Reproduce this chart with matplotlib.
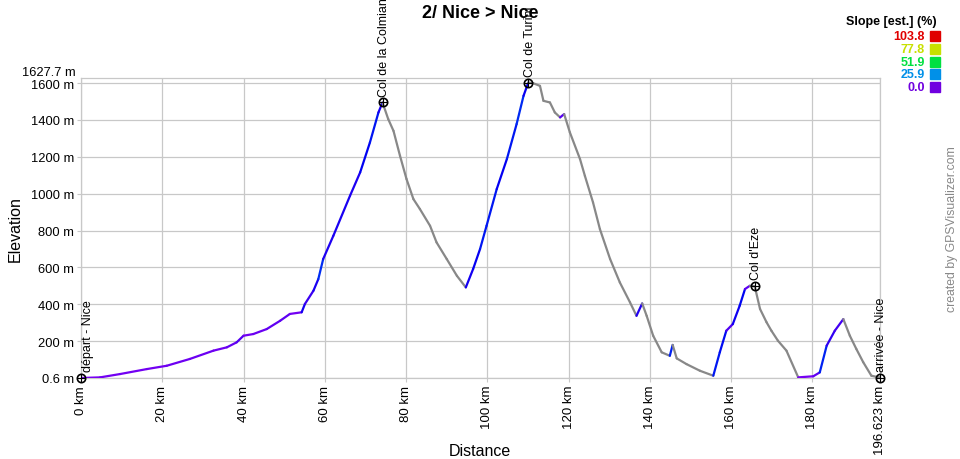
import colorsys
import numpy as np
import matplotlib
matplotlib.use("Agg")
import matplotlib.pyplot as plt
from matplotlib.collections import LineCollection

plt.rcParams['font.family'] = ['Liberation Sans', 'DejaVu Sans']

# ---- data ----
dist_km = [0, 4.7, 9.6, 16.2, 21.1, 26.8, 32.6, 35.9, 38.3, 40.0, 42.4, 45.7, 49.0,
           51.4, 54.3, 55.1, 57.2, 58.4, 59.6, 62.1, 66.2, 68.7, 71.1, 73.2, 74.2,
           75.6, 76.9, 78.5, 80.1, 81.8, 83.4, 85.9, 87.5, 90.0, 92.5, 94.7, 96.5,
           98.2, 99.8, 102.3, 104.8, 107.2, 108.9, 110.07, 111.2, 112.95, 113.8,
           115.4, 116.6, 117.9, 118.9, 120.3, 122.8, 124.0, 126.0, 127.7, 130.2,
           132.6, 135.1, 136.7, 138.1, 139.2, 140.8, 142.9, 144.9, 145.6, 146.6,
           149.0, 152.3, 155.6, 157.2, 158.8, 160.4, 162.1, 163.4, 164.6, 165.8,
           167.1, 168.7, 169.9, 171.5, 173.6, 176.5, 180.2, 181.8, 183.5, 185.5,
           187.6, 189.2, 190.8, 192.5, 194.5, 196.4, 196.623]
elev_m = [0.6, 4, 22, 49, 67, 104, 149, 167, 194, 230, 239, 266, 311,
          348, 357, 402, 474, 537, 646, 772, 989, 1116, 1278, 1441, 1495,
          1405, 1341, 1206, 1080, 971, 917, 826, 736, 646, 555, 492, 592,
          700, 826, 1025, 1188, 1378, 1531, 1603, 1600, 1585, 1504,
          1495, 1441, 1414, 1432, 1333, 1188, 1097, 953, 808, 646,
          519, 411, 338, 405, 338, 230, 140, 121, 180, 107,
          76, 40, 13, 140, 257, 293, 393, 483, 501, 498,
          375, 303, 257, 203, 149, 4, 10, 31, 176, 257,
          320, 230, 158, 86, 13, 4, 0.6]

wp_names = ["départ - Nice", "Col de la Colmiane", "Col de Turini", "Col d'Eze", "arrivée - Nice"]
wp_dist = [0, 74.2, 110.07, 165.8, 196.623]
wp_elev = [0.6, 1495, 1603, 498, 0.6]

x_ticks = [0, 20, 40, 60, 80, 100, 120, 140, 160, 180, 196.623]
x_labels = ["0 km", "20 km", "40 km", "60 km", "80 km", "100 km", "120 km",
            "140 km", "160 km", "180 km", "196.623 km"]
y_ticks = [0.6, 200, 400, 600, 800, 1000, 1200, 1400, 1600]
y_labels = ["0.6 m", "200 m", "400 m", "600 m", "800 m", "1000 m", "1200 m", "1400 m", "1600 m"]
y_min, y_max = 0.6, 1627.7

legend_vals = [103.8, 77.8, 51.9, 25.9, 0.0]
legend_cols = ["#e00000", "#c8e000", "#00e040", "#0090e8", "#7000e0"]


def slope_color(s):
    if s < 0:
        return "#888888"
    hue = max(0.0, 270.0 - 4.5 * s) / 360.0
    return colorsys.hsv_to_rgb(hue, 1.0, 0.95)


fig = plt.figure(figsize=(9.6, 4.6), dpi=100)
ax = fig.add_axes([81 / 960, 1 - 379 / 460, (880 - 81) / 960, (379 - 79) / 460])

d = np.array(dist_km)
e = np.array(elev_m)
pts = np.column_stack([d, e])
segs = np.stack([pts[:-1], pts[1:]], axis=1)
slopes = np.diff(e) / (np.diff(d) * 1000.0) * 100.0
colors = [slope_color(s) for s in slopes]
lc = LineCollection(segs, colors=colors, linewidths=1.6, capstyle='round', zorder=3)
ax.add_collection(lc)

ax.set_xlim(0, 196.623)
ax.set_ylim(y_min, y_max)

grid_c = "#c8c8c8"
ax.set_xticks(x_ticks)
ax.set_xticklabels(x_labels, rotation=90, fontsize=9.5)
ax.set_yticks(y_ticks)
ax.set_yticklabels(y_labels, fontsize=9.3)
ax.grid(True, color=grid_c, linewidth=0.9, zorder=0)
ax.set_axisbelow(True)
ax.tick_params(length=3, color=grid_c, pad=2)
for sp in ax.spines.values():
    sp.set_color(grid_c)
    sp.set_linewidth(0.9)

# top value label
ax.annotate("1627.7 m", xy=(0, y_max), xycoords=('axes fraction', 'data'),
            xytext=(-4, 4), textcoords='offset points', ha='right', va='center',
            fontsize=9.3, annotation_clip=False)

fig.text(480 / 960, 1 - 452 / 460, "Distance", ha='center', va='center', fontsize=11.5)
ax.set_ylabel("Elevation", fontsize=11.5, labelpad=6)

# waypoints
ax.plot(wp_dist, wp_elev, linestyle='none', marker='o', ms=6, mfc='none',
        mec='black', mew=1.2, zorder=5, clip_on=False)
ax.plot(wp_dist, wp_elev, linestyle='none', marker='+', ms=6, mec='black',
        mew=0.8, zorder=5, clip_on=False)
for i, (name, xd, yd) in enumerate(zip(wp_names, wp_dist, wp_elev)):
    dx = 5 if i == 0 else 1
    ax.annotate(name, xy=(xd, yd), xytext=(dx, 5), textcoords='offset points',
                rotation=90, ha='center', va='bottom', fontsize=9,
                annotation_clip=False, zorder=6)

fig.text(480 / 960, 1 - 13 / 460, "2/ Nice > Nice", ha='center', va='center',
         fontsize=13, fontweight='bold')

# legend
fig.text(937 / 960, 1 - 22 / 460, "Slope [est.] (%)", ha='right', va='center',
         fontsize=9, fontweight='bold')
for k, (v, c) in enumerate(zip(legend_vals, legend_cols)):
    yc = 1 - (37 + 12.8 * k) / 460
    fig.text(925 / 960, yc, f"{v:.1f}", ha='right', va='center', fontsize=9,
             fontweight='bold', color=c)
    fig.patches.append(plt.Rectangle((930 / 960, yc - 5 / 460), 10 / 960, 10 / 460,
                                     transform=fig.transFigure, color=c))

fig.text(952 / 960, 1 - 229 / 460, "created by GPSVisualizer.com", rotation=90,
         ha='center', va='center', fontsize=8.8, color='#888888')

fig.savefig("out.png", dpi=100)
